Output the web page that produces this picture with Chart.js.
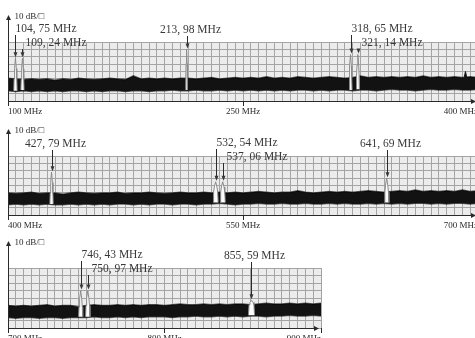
<!DOCTYPE html>
<html>
<head>
<meta charset="utf-8">
<script src="https://cdn.jsdelivr.net/npm/chart.js@4"></script>
<style>
  html, body { margin: 0; padding: 0; background: #fff; overflow: hidden; width: 475px; height: 338px; }
  canvas { position: absolute; left: 0; }
</style>
</head>
<body>
<canvas id="p1" width="480" height="120" style="top:0px"></canvas>
<canvas id="p2" width="480" height="118" style="top:115px"></canvas>
<canvas id="p3" width="480" height="120" style="top:228px"></canvas>
<script>
// noise floor is sampled every 5 MHz from the left end of each sweep
const noiseStep = 5;

// sweep 1: 100 - 400 MHz
const p1Range = [100, 400];
const p1Ticks = [100, 250, 400];
const p1NoiseTop = [
  -49, -50, -51, -50, -51, -50, -52, -50, -51, -49,
  -50, -51, -50, -49, -50, -51, -46, -50, -49, -50,
  -49, -50, -49, -49, -50, -49, -48, -50, -49, -48,
  -49, -48, -49, -47, -49, -48, -49, -47, -48, -49,
  -48, -47, -48, -49, -48, -46, -48, -47, -48, -47,
  -48, -47, -48, -46, -48, -47, -48, -47, -48, -47,
  -48];
const p1NoiseBottom = [
  -66, -67, -66, -67, -66, -67, -66, -67, -66, -66,
  -67, -66, -67, -66, -66, -67, -66, -66, -67, -66,
  -66, -65, -66, -66, -65, -66, -66, -65, -66, -65,
  -66, -65, -66, -65, -66, -65, -66, -65, -65, -66,
  -65, -66, -65, -65, -66, -65, -65, -66, -65, -64,
  -65, -65, -66, -65, -64, -65, -65, -64, -65, -65,
  -64];
const p1PeakFreq = [104.75, 109.24, 213.98, 318.65, 323.3];
const p1PeakLevel = [-22, -22, -10, -17, -17];
const p1PeakLabel = ['104, 75 MHz', '109, 24 MHz', '213, 98 MHz', '318, 65 MHz', '321, 14 MHz'];
const p1SpurFreq = [392];
const p1SpurLevel = [-40];

// sweep 2: 400 - 700 MHz
const p2Range = [400, 700];
const p2Ticks = [400, 550, 700];
const p2NoiseTop = [
  -50, -51, -50, -49, -51, -50, -50, -52, -50, -49,
  -50, -51, -50, -50, -49, -51, -50, -50, -49, -50,
  -51, -50, -49, -50, -50, -49, -50, -49, -50, -49,
  -50, -49, -48, -49, -50, -49, -49, -47, -49, -50,
  -49, -48, -49, -48, -49, -48, -47, -48, -49, -48,
  -47, -48, -46, -48, -47, -48, -47, -48, -46, -48,
  -47];
const p2NoiseBottom = [
  -66, -65, -66, -65, -66, -65, -66, -66, -65, -66,
  -65, -66, -65, -66, -65, -65, -66, -65, -66, -65,
  -65, -66, -65, -65, -66, -65, -65, -64, -65, -66,
  -65, -65, -64, -65, -65, -64, -65, -65, -64, -65,
  -65, -64, -65, -64, -65, -65, -64, -65, -64, -65,
  -64, -65, -64, -64, -65, -64, -65, -64, -64, -65,
  -64];
const p2PeakFreq = [427.79, 532.54, 537.06, 641.69];
const p2PeakLevel = [-22, -35, -35, -30];
const p2PeakLabel = ['427, 79 MHz', '532, 54 MHz', '537, 06 MHz', '641, 69 MHz'];
const p2SpurFreq = [];
const p2SpurLevel = [];

// sweep 3: 700 - 900 MHz
const p3Range = [700, 900];
const p3Ticks = [700, 800, 900];
const p3NoiseTop = [
  -50, -51, -50, -51, -50, -49, -51, -50, -50, -52,
  -50, -49, -50, -50, -49, -50, -49, -50, -49, -49,
  -50, -49, -48, -49, -49, -48, -49, -48, -49, -48,
  -48, -49, -48, -47, -48, -48, -47, -48, -47, -48,
  -47];
const p3NoiseBottom = [
  -66, -67, -66, -66, -67, -66, -66, -67, -66, -66,
  -66, -65, -66, -66, -65, -66, -65, -66, -65, -65,
  -65, -66, -65, -65, -64, -65, -65, -64, -65, -64,
  -65, -64, -64, -65, -64, -64, -63, -64, -64, -63,
  -64];
const p3PeakFreq = [746.43, 750.97, 855.59];
const p3PeakLevel = [-30, -30, -43];
const p3PeakLabel = ['746, 43 MHz', '750, 97 MHz', '855, 59 MHz'];
const p3SpurFreq = [];
const p3SpurLevel = [];

const serif = '"Liberation Serif", "DejaVu Serif", serif';
const ink = '#2a2a2a';

// grid background, axes with arrows, marker labels
const decor = {
  id: 'decor',
  beforeDraw(chart) {
    const { ctx, chartArea: a } = chart;
    ctx.save();
    ctx.fillStyle = '#ececec';
    ctx.fillRect(a.left, a.top, a.right - a.left, a.bottom - a.top);
    ctx.restore();
  },
  afterDraw(chart, args, o) {
    const { ctx, chartArea: a, scales: { x, y } } = chart;
    ctx.save();
    ctx.strokeStyle = ink;
    ctx.fillStyle = ink;
    ctx.lineWidth = 1;

    // x axis
    const by = Math.round(a.bottom) + 0.5;
    ctx.beginPath();
    ctx.moveTo(a.left, by);
    ctx.lineTo(a.right - 4, by);
    ctx.stroke();
    ctx.beginPath();
    ctx.moveTo(a.right - 2, by);
    ctx.lineTo(a.right - 7, by - 2.5);
    ctx.lineTo(a.right - 7, by + 2.5);
    ctx.closePath();
    ctx.fill();

    // y axis
    const lx = Math.round(a.left) + 0.5;
    const tip = a.top - 27;
    ctx.beginPath();
    ctx.moveTo(lx, by + 3);
    ctx.lineTo(lx, tip + 4);
    ctx.stroke();
    ctx.beginPath();
    ctx.moveTo(lx, tip);
    ctx.lineTo(lx - 2.5, tip + 5);
    ctx.lineTo(lx + 2.5, tip + 5);
    ctx.closePath();
    ctx.fill();
    ctx.font = '9px ' + serif;
    ctx.textBaseline = 'middle';
    ctx.textAlign = 'left';
    ctx.fillText('10 dB/\u25A1', lx + 6, tip + 2);

    // marker labels with arrows
    ctx.font = '11.5px ' + serif;
    ctx.fillStyle = '#383838';
    o.freq.forEach((f, i) => {
      const px = Math.round(x.getPixelForValue(f)) + 0.5;
      const py = y.getPixelForValue(o.level[i]);
      const prevClose = i > 0 && f - o.freq[i - 1] < 10;
      const nextClose = i < o.freq.length - 1 && o.freq[i + 1] - f < 10;
      let ly, tx;
      if (nextClose) { ly = a.top - 13; tx = px; ctx.textAlign = 'left'; }
      else if (prevClose) { ly = a.top + 1; tx = px + 3; ctx.textAlign = 'left'; }
      else { ly = a.top - 12; tx = px + 3; ctx.textAlign = 'center'; }
      ctx.fillText(o.text[i], tx, ly);
      const y0 = ly + 6, y1 = py - 1;
      ctx.beginPath();
      ctx.moveTo(px, y0);
      ctx.lineTo(px, y1 - 4);
      ctx.stroke();
      ctx.beginPath();
      ctx.moveTo(px, y1);
      ctx.lineTo(px - 2, y1 - 5);
      ctx.lineTo(px + 2, y1 - 5);
      ctx.closePath();
      ctx.fill();
    });
    ctx.restore();
  }
};

function bandAt(arr, min, f) {
  return arr[Math.max(0, Math.min(arr.length - 1, Math.round((f - min) / noiseStep)))];
}

function makePanel(id, range, ticks, noiseTop, noiseBottom, peakFreq, peakLevel, peakLabel, spurFreq, spurLevel, padTop, padRight, xHeight) {
  const [min, max] = range;
  const datasets = [];

  // noise floor band
  datasets.push({
    data: noiseTop.map((v, i) => ({ x: min + i * noiseStep, y: v })),
    fill: '+1',
    backgroundColor: '#121212',
    borderColor: 'rgba(0,0,0,0.6)',
    borderWidth: 1.5,
    order: 2
  });
  datasets.push({
    data: noiseBottom.map((v, i) => ({ x: min + i * noiseStep, y: v })),
    fill: false,
    borderColor: 'rgba(0,0,0,0.6)',
    borderWidth: 1.5,
    order: 2
  });

  // carriers: thin trace rising out of the noise
  peakFreq.forEach((f, i) => {
    const t = bandAt(noiseTop, min, f);
    const b = bandAt(noiseBottom, min, f);
    const lv = peakLevel[i];
    let hw = 2.2 + 0.04 * (t - lv);
    peakFreq.forEach((g, j) => {
      if (j !== i && Math.abs(g - f) < 10) hw = Math.min(hw, Math.abs(g - f) / 2 + 0.3);
    });
    datasets.push({
      data: [
        { x: f - hw, y: b + 1 }, { x: f - hw * 0.8, y: t }, { x: f - hw * 0.5, y: (t + lv) / 2 },
        { x: f, y: lv },
        { x: f + hw * 0.5, y: (t + lv) / 2 }, { x: f + hw * 0.8, y: t }, { x: f + hw, y: b + 1 }
      ],
      fill: { value: b + 1 },
      backgroundColor: '#fcfcfc',
      borderColor: '#8a8a8a',
      borderWidth: 1,
      order: 1
    });
  });

  // spurs poking out of the noise
  spurFreq.forEach((f, i) => {
    const t = bandAt(noiseTop, min, f);
    datasets.push({
      data: [{ x: f - 0.8, y: t }, { x: f, y: spurLevel[i] }, { x: f + 0.8, y: t }],
      fill: { value: t },
      backgroundColor: '#121212',
      borderColor: '#121212',
      borderWidth: 1,
      order: 1
    });
  });

  return new Chart(document.getElementById(id), {
    type: 'line',
    data: { datasets },
    options: {
      responsive: false,
      animation: false,
      events: [],
      layout: { padding: { left: 8, right: padRight, top: padTop, bottom: 0 } },
      elements: { point: { radius: 0 }, line: { tension: 0 } },
      plugins: {
        legend: { display: false },
        tooltip: { enabled: false },
        decor: { freq: peakFreq, level: peakLevel, text: peakLabel }
      },
      scales: {
        x: {
          type: 'linear',
          min: min,
          max: max,
          afterFit: s => { s.height = xHeight; },
          border: { display: false },
          grid: {
            color: '#a4a4a4',
            lineWidth: 1,
            tickLength: 5,
            tickColor: c => ticks.includes(c.tick.value) ? ink : 'rgba(0,0,0,0)'
          },
          ticks: {
            stepSize: 5,
            autoSkip: false,
            maxRotation: 0,
            align: 'inner',
            padding: 0,
            color: ink,
            font: { family: serif, size: 9 },
            callback: v => ticks.includes(v) ? v + ' MHz' : ''
          }
        },
        y: {
          min: -80,
          max: 0,
          afterFit: s => { s.width = 0; },
          border: { display: false },
          grid: { color: '#a4a4a4', lineWidth: 1, drawTicks: false },
          ticks: { stepSize: 10, display: false }
        }
      }
    },
    plugins: [decor]
  });
}

makePanel('p1', p1Range, p1Ticks, p1NoiseTop, p1NoiseBottom, p1PeakFreq, p1PeakLevel, p1PeakLabel, p1SpurFreq, p1SpurLevel, 42, 2, 19);
makePanel('p2', p2Range, p2Ticks, p2NoiseTop, p2NoiseBottom, p2PeakFreq, p2PeakLevel, p2PeakLabel, p2SpurFreq, p2SpurLevel, 41, 2, 18);
makePanel('p3', p3Range, p3Ticks, p3NoiseTop, p3NoiseBottom, p3PeakFreq, p3PeakLevel, p3PeakLabel, p3SpurFreq, p3SpurLevel, 40, 159, 20);
</script>
</body>
</html>
